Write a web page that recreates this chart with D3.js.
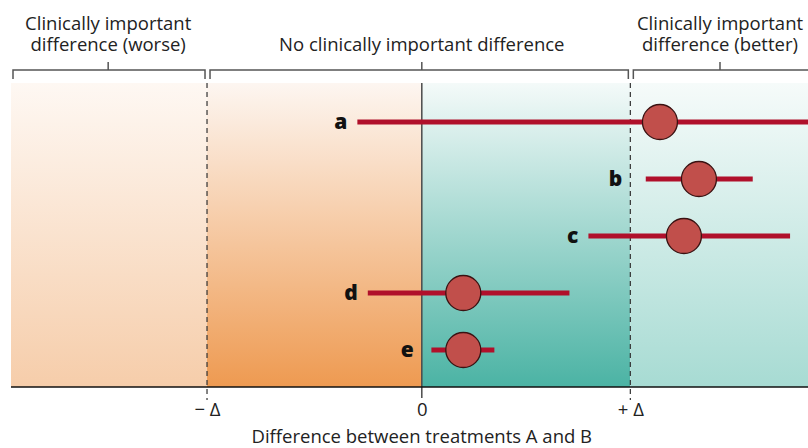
<!DOCTYPE html>
<html>
<head>
<meta charset="utf-8">
<script src="https://cdn.jsdelivr.net/npm/d3@7"></script>
<style>
  html, body { margin: 0; padding: 0; background: #fff; }
  svg { display: block; }
  text { font-family: "Open Sans", "DejaVu Sans", sans-serif; }
</style>
</head>
<body>
<svg id="chart" width="808" height="448"></svg>
<script>
// ---- data (x values in units of the clinically important difference Δ) ----
const categories = ["a", "b", "c", "d", "e"];
const estimates  = [1.142, 1.329, 1.257, 0.199, 0.199];
const lowerCI    = [-0.309, 1.074, 0.799, -0.259, 0.046];
const upperCI    = [2.10, 1.587, 1.766, 0.708, 0.348];

const thresholds = [-1.03, 1];              // −Δ and +Δ
const tickValues = [-1.03, 0, 1];
const tickLabels = ["\u2212 \u0394", "0", "+ \u0394"];

const regionLines = [
  ["Clinically important", "difference (worse)"],
  ["No clinically important difference"],
  ["Clinically important", "difference (better)"]
];
const regionFrom = [-1.97, -1.03, 1];
const regionTo   = [-1.03, 1, 1.86];
const regionMid  = [-1.504, 0, 1.43];

const xTitle = "Difference between treatments A and B";

// ---- layout ----
const svg = d3.select("#chart");
const plotTop = 83, plotBottom = 387;
const FS = 18.5;
const x = d3.scaleLinear().domain([-1.97, 1.852]).range([11, 808]);
const y = d3.scalePoint().domain(categories).range([122, 350]);

// gradients
const defs = svg.append("defs");
const gradSpecs = [
  { id: "gWorse",  top: "#fef8f3", bottom: "#f6cdaa" },
  { id: "gNoneL",  top: "#fdf6f1", bottom: "#ee9a51" },
  { id: "gNoneR",  top: "#f4faf9", bottom: "#4bb3a4" },
  { id: "gBetter", top: "#f6fbfa", bottom: "#a7dbd3" }
];
gradSpecs.forEach(g => {
  const lg = defs.append("linearGradient").attr("id", g.id)
    .attr("x1", 0).attr("y1", 0).attr("x2", 0).attr("y2", 1);
  lg.append("stop").attr("offset", "0%").attr("stop-color", g.top);
  lg.append("stop").attr("offset", "100%").attr("stop-color", g.bottom);
});

const bands = [
  { from: x.domain()[0], to: thresholds[0], fill: "gWorse" },
  { from: thresholds[0], to: 0, fill: "gNoneL" },
  { from: 0, to: thresholds[1], fill: "gNoneR" },
  { from: thresholds[1], to: x.domain()[1], fill: "gBetter" }
];
svg.append("g").selectAll("rect").data(bands).join("rect")
  .attr("x", d => x(d.from))
  .attr("y", plotTop)
  .attr("width", d => x(d.to) - x(d.from))
  .attr("height", plotBottom - plotTop)
  .attr("fill", d => `url(#${d.fill})`);

// zero line
svg.append("line")
  .attr("x1", x(0)).attr("x2", x(0))
  .attr("y1", plotTop).attr("y2", plotBottom + 11)
  .attr("stroke", "#4a4a4a").attr("stroke-width", 1.5);

// threshold dashed lines
svg.append("g").selectAll("line").data(thresholds).join("line")
  .attr("x1", d => x(d)).attr("x2", d => x(d))
  .attr("y1", plotTop).attr("y2", plotBottom + 13)
  .attr("stroke", "#333").attr("stroke-width", 1.2)
  .attr("stroke-dasharray", "5,4");

// x axis line
svg.append("line")
  .attr("x1", x.range()[0]).attr("x2", x.range()[1])
  .attr("y1", plotBottom).attr("y2", plotBottom)
  .attr("stroke", "#111").attr("stroke-width", 1.5);

// tick labels via d3 axis
const axis = d3.axisBottom(x).tickValues(tickValues)
  .tickFormat((d, i) => tickLabels[i]).tickSize(0).tickPadding(0);
const axG = svg.append("g").attr("transform", `translate(0,${plotBottom})`).call(axis);
axG.select(".domain").remove();
axG.selectAll("text")
  .attr("y", 29).attr("dy", 0)
  .attr("font-size", FS).attr("fill", "#222")
  .style("font-family", "'Open Sans', sans-serif");

// axis title
svg.append("text")
  .attr("x", x(0)).attr("y", 443)
  .attr("text-anchor", "middle").attr("font-size", FS).attr("fill", "#222")
  .text(xTitle);

// region brackets + labels
const bracketY = 70;
const regions = regionLines.map((lines, i) => ({
  lines, from: regionFrom[i], to: regionTo[i], mid: regionMid[i]
}));
const brG = svg.append("g");
regions.forEach((r, i) => {
  const x0 = x(r.from) + (i === 0 ? 2 : 3);
  const x1 = x(r.to) - (i === 2 ? 0 : 2);
  const xm = x(r.mid);
  const path = d3.path();
  path.moveTo(x0, bracketY + 9);
  path.lineTo(x0, bracketY);
  path.lineTo(x1, bracketY);
  if (i !== 2) path.lineTo(x1, bracketY + 9);
  path.moveTo(xm, bracketY);
  path.lineTo(xm, bracketY - 8);
  brG.append("path").attr("d", path.toString())
    .attr("fill", "none").attr("stroke", "#555").attr("stroke-width", 1.5);
  const t = brG.append("text").attr("text-anchor", "middle")
    .attr("font-size", FS).attr("fill", "#222");
  const n = r.lines.length;
  r.lines.forEach((ln, j) => {
    t.append("tspan").attr("x", xm)
      .attr("y", 51 - (n - 1 - j) * 21).text(ln);
  });
});

// data rows
const rows = categories.map((c, i) => ({
  c, est: estimates[i], lo: lowerCI[i], hi: upperCI[i]
}));

const rowG = svg.append("g").selectAll("g").data(rows).join("g");
rowG.append("line")
  .attr("x1", d => x(d.lo)).attr("x2", d => x(d.hi))
  .attr("y1", d => y(d.c)).attr("y2", d => y(d.c))
  .attr("stroke", "#b0102b").attr("stroke-width", 5);
rowG.append("circle")
  .attr("cx", d => x(d.est)).attr("cy", d => y(d.c)).attr("r", 17.5)
  .attr("fill", "#c14f4b").attr("stroke", "#3a1212").attr("stroke-width", 1.3);

// labels: placed left of the CI, moved left of any reference line they would touch
const refLines = [0].concat(thresholds);
rowG.append("text")
  .attr("x", d => {
    let xr = x(d.lo) - 10;
    refLines.forEach(v => {
      const xv = x(v);
      if (xv < x(d.lo) && xv > xr - 16) xr = Math.min(xr, xv - 8);
    });
    return xr;
  })
  .attr("y", d => y(d.c) + 6.5)
  .attr("text-anchor", "end")
  .attr("font-size", 21).attr("font-weight", 800).attr("fill", "#111")
  .text(d => d.c);
</script>
</body>
</html>
